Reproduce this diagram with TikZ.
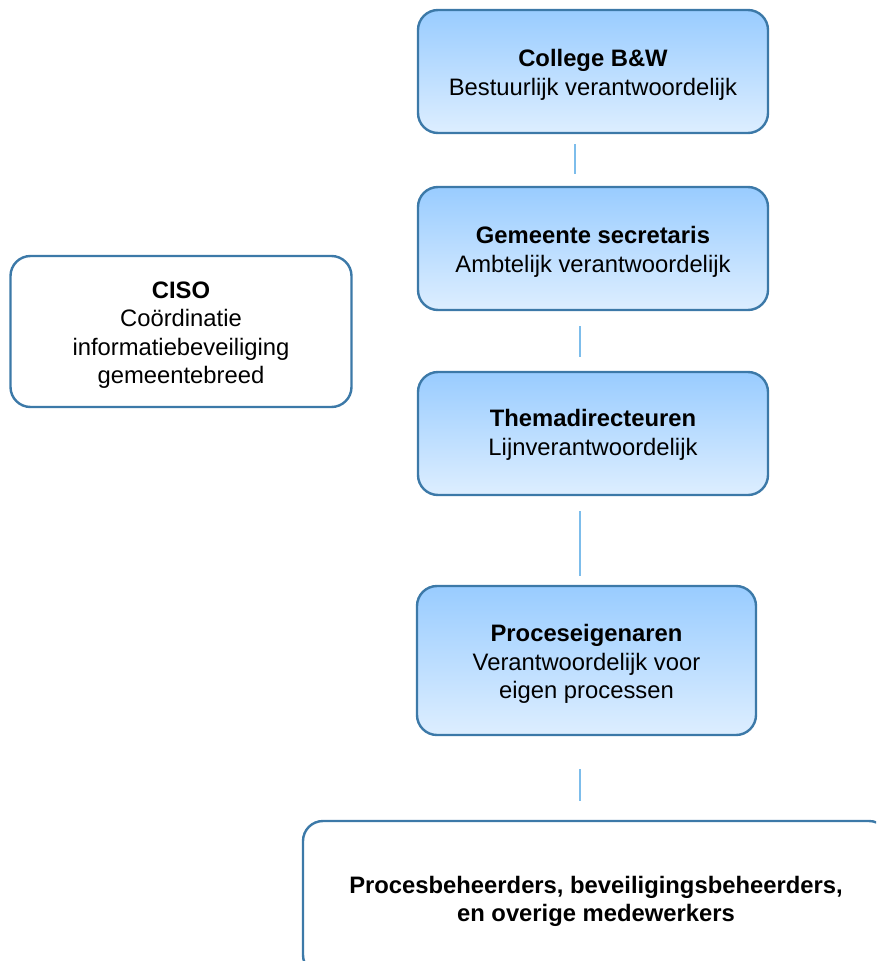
\documentclass[tikz,border=0pt]{standalone}
\usepackage{fontspec}
\setmainfont{Liberation Sans}
\definecolor{bordc}{HTML}{3C79A8}
\definecolor{topc}{HTML}{99CCFF}
\definecolor{botc}{HTML}{DDEEFF}
\definecolor{connc}{HTML}{7DBDEB}
\newcommand\tpad{\rule{0pt}{24pt}}
\begin{document}
\begin{tikzpicture}[x=1pt,y=-1pt,
 box/.style={draw=bordc, line width=2.4pt, rounded corners=20pt, align=center, font=\fontsize{23.8}{28.6}\selectfont, inner sep=0pt},
 bluebox/.style={box, top color=topc, bottom color=botc},
 whitebox/.style={box, fill=white},
 conn/.style={draw=connc, line width=1.8pt}]
\useasboundingbox (0,0) rectangle (876,961);
\clip (0,0) rectangle (876,961);
\node[bluebox, minimum width=350pt, minimum height=123pt] (college) at (593,71.5) {\tpad\textbf{College B\&W}\\Bestuurlijk verantwoordelijk};
\node[bluebox, minimum width=350pt, minimum height=123pt] (gem) at (593,248.5) {\tpad\textbf{Gemeente secretaris}\\Ambtelijk verantwoordelijk};
\node[bluebox, minimum width=350pt, minimum height=123pt] (thema) at (593,433.5) {\rule{0pt}{20pt}\textbf{Themadirecteuren}\\Lijnverantwoordelijk};
\node[bluebox, minimum width=339pt, minimum height=149pt] (proces) at (586.5,660.5) {\tpad\textbf{Proceseigenaren}\\Verantwoordelijk voor\\eigen processen};
\node[whitebox, minimum width=341pt, minimum height=151pt] (ciso) at (181,331.5) {\tpad\textbf{CISO}\\Coördinatie\\informatiebeveiliging\\gemeentebreed};
\node[whitebox, minimum width=586pt, minimum height=154pt] (overig) at (596,898) {\tpad\textbf{Procesbeheerders, beveiligingsbeheerders,}\\\textbf{en overige medewerkers}};
\draw[conn] ([xshift=-18pt,yshift=-10pt]college.south) -- ([xshift=-18pt,yshift=12pt]gem.north);
\draw[conn] ([xshift=-13pt,yshift=-15pt]gem.south) -- ([xshift=-13pt,yshift=14pt]thema.north);
\draw[conn] ([xshift=-13pt,yshift=-15pt]thema.south) -- ([xshift=-6.5pt,yshift=9pt]proces.north);
\draw[conn] ([xshift=-6.5pt,yshift=-33pt]proces.south) -- ([xshift=-16pt,yshift=19pt]overig.north);
\end{tikzpicture}
\end{document}
